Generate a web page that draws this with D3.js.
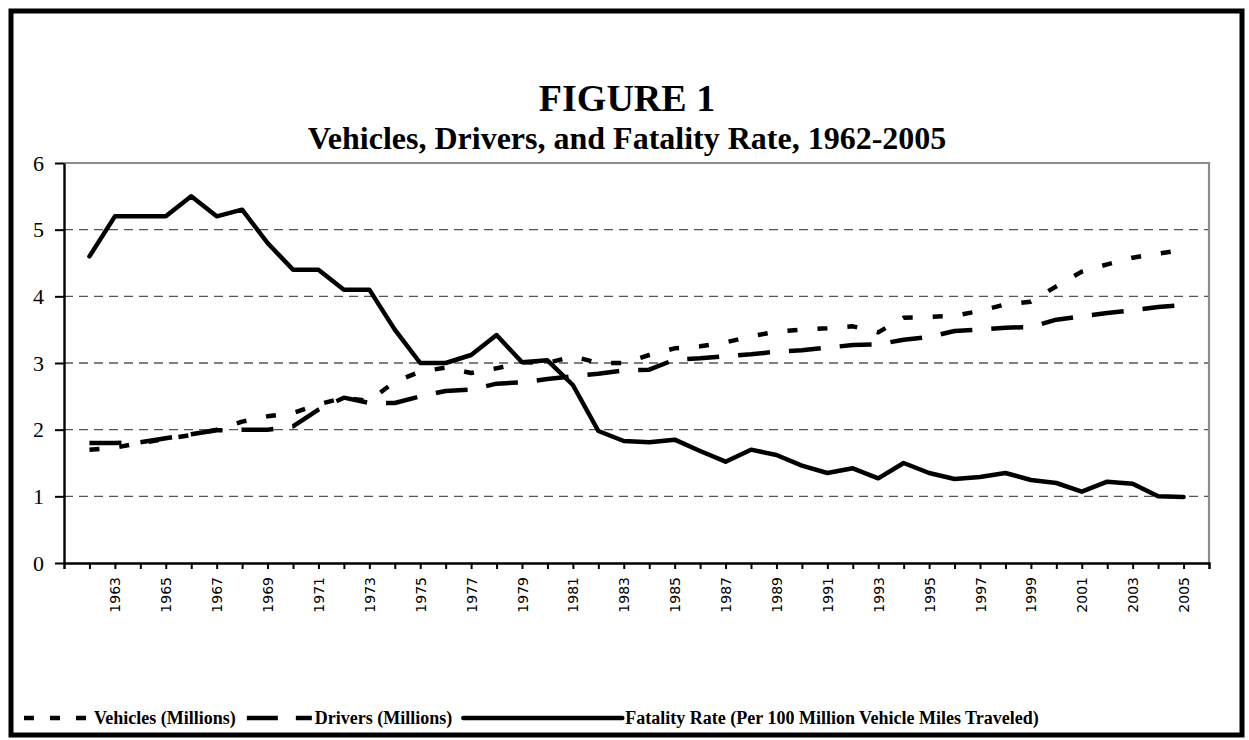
<!DOCTYPE html>
<html>
<head>
<meta charset="utf-8">
<script src="https://cdn.jsdelivr.net/npm/d3@7"></script>
<style>
  body { margin: 0; background: #fff; }
  svg { display: block; }
</style>
</head>
<body>
<svg id="chart" width="1249" height="740"></svg>
<script>
// Values.
var years = [1962, 1963, 1964, 1965, 1966, 1967, 1968, 1969, 1970, 1971,
  1972, 1973, 1974, 1975, 1976, 1977, 1978, 1979, 1980, 1981,
  1982, 1983, 1984, 1985, 1986, 1987, 1988, 1989, 1990, 1991,
  1992, 1993, 1994, 1995, 1996, 1997, 1998, 1999, 2000, 2001,
  2002, 2003, 2004, 2005];

var vehicles = [1.70, 1.73, 1.80, 1.86, 1.92, 2.00, 2.12, 2.20, 2.25, 2.38,
  2.48, 2.43, 2.72, 2.87, 2.93, 2.85, 2.92, 3.01, 3.00, 3.10,
  3.00, 3.00, 3.12, 3.22, 3.25, 3.31, 3.40, 3.47, 3.50, 3.52,
  3.55, 3.46, 3.68, 3.69, 3.71, 3.78, 3.88, 3.92, 4.15, 4.37,
  4.48, 4.58, 4.64, 4.70];

var drivers = [1.80, 1.80, 1.81, 1.87, 1.93, 1.99, 2.00, 2.00, 2.05, 2.30,
  2.48, 2.40, 2.40, 2.50, 2.58, 2.60, 2.69, 2.71, 2.76, 2.80,
  2.84, 2.89, 2.90, 3.05, 3.07, 3.10, 3.13, 3.17, 3.19, 3.23,
  3.27, 3.28, 3.35, 3.39, 3.48, 3.50, 3.53, 3.54, 3.65, 3.70,
  3.75, 3.79, 3.84, 3.87];

var fatalityRate = [4.60, 5.20, 5.20, 5.20, 5.50, 5.20, 5.30, 4.80, 4.40, 4.40,
  4.10, 4.10, 3.50, 3.00, 3.00, 3.12, 3.42, 3.01, 3.04, 2.67,
  1.98, 1.83, 1.81, 1.85, 1.68, 1.52, 1.70, 1.62, 1.46, 1.35,
  1.42, 1.27, 1.50, 1.35, 1.26, 1.29, 1.35, 1.245, 1.20, 1.07,
  1.22, 1.19, 1.00, 0.99];

var yTicks = [0, 1, 2, 3, 4, 5, 6];
var gridValues = [1, 2, 3, 4, 5];

// Only every other year gets a label on the category axis.
var labelYears = [1963, 1965, 1967, 1969, 1971, 1973, 1975, 1977, 1979, 1981,
  1983, 1985, 1987, 1989, 1991, 1993, 1995, 1997, 1999, 2001, 2003, 2005];

var seriesNames = ['Vehicles (Millions)', 'Drivers (Millions)',
  'Fatality Rate (Per 100 Million Vehicle Miles Traveled)'];

var titleText = 'FIGURE 1';
var subtitleText = 'Vehicles, Drivers, and Fatality Rate, 1962-2005';

var serif = '"Liberation Serif", "Times New Roman", serif';

var svg = d3.select('#chart');

// Plot area edges.
var plotLeft = 64, plotRight = 1209, plotTop = 163, plotBottom = 563;

// Points sit on the tick marks, with one empty step at each end.
var x = d3.scalePoint()
  .domain(years)
  .range([plotLeft, plotRight])
  .padding(1);

var y = d3.scaleLinear()
  .domain([0, 6])
  .range([plotBottom, plotTop]);

// Heavy outer frame.
svg.append('rect')
  .attr('x', 11).attr('y', 11)
  .attr('width', 1231).attr('height', 724)
  .attr('fill', '#fff')
  .attr('stroke', '#000')
  .attr('stroke-width', 5);

// Titles.
svg.append('text')
  .attr('x', 627).attr('y', 111)
  .attr('text-anchor', 'middle')
  .style('font-family', serif)
  .style('font-size', '38px')
  .style('font-weight', 'bold')
  .text(titleText);

svg.append('text')
  .attr('x', 627).attr('y', 149)
  .attr('text-anchor', 'middle')
  .style('font-family', serif)
  .style('font-size', '32px')
  .style('font-weight', 'bold')
  .text(subtitleText);

// Dashed horizontal gridlines.
svg.append('g')
    .attr('class', 'grid')
  .selectAll('line')
  .data(gridValues)
  .enter().append('line')
    .attr('x1', plotLeft)
    .attr('x2', plotRight)
    .attr('y1', function(d) { return y(d); })
    .attr('y2', function(d) { return y(d); })
    .attr('stroke', '#555')
    .attr('stroke-width', 1.4)
    .attr('stroke-dasharray', '9,6');

// Grey top and right border of the plot area.
svg.append('path')
  .attr('d', 'M' + plotLeft + ',' + y(6) + 'H' + plotRight + 'V' + plotBottom)
  .attr('fill', 'none')
  .attr('stroke', '#8c8c8c')
  .attr('stroke-width', 2.2);

// Category axis.
var xAxis = svg.append('g')
  .attr('transform', 'translate(0,' + plotBottom + ')')
  .call(d3.axisBottom(x)
    .tickSize(6)
    .tickSizeOuter(6)
    .tickFormat(function(d) { return labelYears.indexOf(d) >= 0 ? d : ''; }));

xAxis.select('.domain')
  .attr('stroke', '#000')
  .attr('stroke-width', 2.5);
xAxis.selectAll('.tick line')
  .attr('stroke', '#000')
  .attr('stroke-width', 2);
xAxis.selectAll('.tick text')
  .attr('transform', 'rotate(-90)')
  .attr('text-anchor', 'end')
  .attr('x', -14)
  .attr('y', 0)
  .attr('dy', '0.36em')
  .attr('fill', '#000')
  .style('font-family', '"DejaVu Sans", sans-serif')
  .style('font-size', '14px');

// Value axis.
var yAxis = svg.append('g')
  .attr('transform', 'translate(' + plotLeft + ',0)')
  .call(d3.axisLeft(y)
    .tickValues(yTicks)
    .tickSize(9)
    .tickSizeOuter(0)
    .tickPadding(11)
    .tickFormat(d3.format('d')));

yAxis.select('.domain')
  .attr('stroke', '#000')
  .attr('stroke-width', 2.4);
yAxis.selectAll('.tick line')
  .attr('stroke', '#000')
  .attr('stroke-width', 2);
yAxis.selectAll('.tick text')
  .attr('fill', '#000')
  .style('font-family', serif)
  .style('font-size', '22px');

// The three series: dotted, long dash and solid.
var series = [
  { name: seriesNames[0], values: vehicles, dash: '10,20', keyDash: '10,16', cap: 'butt', sample: 70 },
  { name: seriesNames[1], values: drivers, dash: '32,19', keyDash: '31,18', cap: 'butt', sample: 68 },
  { name: seriesNames[2], values: fatalityRate, dash: null, keyDash: null, cap: 'round', sample: 162 }
];

var line = d3.line()
  .x(function(d, i) { return x(years[i]); })
  .y(function(d) { return y(d); });

svg.append('g')
    .attr('class', 'series')
  .selectAll('path')
  .data(series)
  .enter().append('path')
    .attr('d', function(s) { return line(s.values); })
    .attr('fill', 'none')
    .attr('stroke', '#000')
    .attr('stroke-width', 4.5)
    .attr('stroke-linejoin', 'round')
    .attr('stroke-linecap', function(s) { return s.cap; })
    .attr('stroke-dasharray', function(s) { return s.dash; });

// Legend along the bottom of the frame.
var legend = svg.append('g').attr('class', 'legend');
var legendY = 718;
var cursor = 24;

series.forEach(function(s) {
  legend.append('line')
    .attr('x1', cursor)
    .attr('x2', cursor + s.sample - 3)
    .attr('y1', legendY)
    .attr('y2', legendY)
    .attr('stroke', '#000')
    .attr('stroke-width', 4.5)
    .attr('stroke-linecap', s.cap)
    .attr('stroke-dasharray', s.keyDash);

  var label = legend.append('text')
    .attr('x', cursor + s.sample)
    .attr('y', legendY + 6)
    .style('font-family', serif)
    .style('font-size', '18px')
    .style('font-weight', 'bold')
    .text(s.name);

  cursor += s.sample + label.node().getComputedTextLength() + 11;
});
</script>
</body>
</html>
